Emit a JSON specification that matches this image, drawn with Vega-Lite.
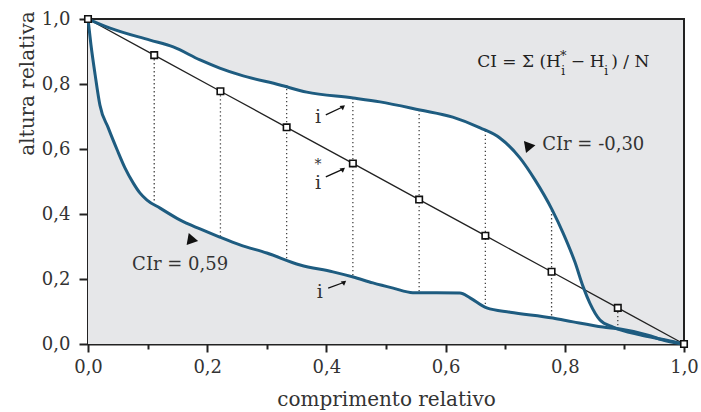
{
  "$schema": "https://vega.github.io/schema/vega-lite/v6.json",
  "width": 596,
  "height": 325,
  "autosize": {"type": "none"},
  "padding": {"left": 88, "top": 19, "right": 17, "bottom": 68},
  "background": "white",
  "config": {
    "font": "DejaVu Serif",
    "view": {"fill": "#e6e7e9", "stroke": "#222", "strokeWidth": 2},
    "axis": {
      "grid": false,
      "domainColor": "#222",
      "domainWidth": 2,
      "tickColor": "#222",
      "tickWidth": 2,
      "labelFont": "DejaVu Serif",
      "labelFontSize": 18,
      "labelColor": "#333",
      "titleFont": "DejaVu Serif",
      "titleFontSize": 20,
      "titleFontWeight": "normal",
      "titleColor": "#333",
      "labelOverlap": false,
      "labelFlush": false
    }
  },
  "datasets": {
    "upper": [
      {"x": 0, "y": 1.0}, {"x": 0.037, "y": 0.972}, {"x": 0.104, "y": 0.935}, {"x": 0.143, "y": 0.914},
      {"x": 0.188, "y": 0.874}, {"x": 0.221, "y": 0.849}, {"x": 0.255, "y": 0.828}, {"x": 0.322, "y": 0.797},
      {"x": 0.367, "y": 0.775}, {"x": 0.445, "y": 0.757}, {"x": 0.49, "y": 0.745}, {"x": 0.557, "y": 0.72},
      {"x": 0.612, "y": 0.698}, {"x": 0.658, "y": 0.665}, {"x": 0.691, "y": 0.634}, {"x": 0.725, "y": 0.572},
      {"x": 0.75, "y": 0.505}, {"x": 0.779, "y": 0.412}, {"x": 0.797, "y": 0.342}, {"x": 0.817, "y": 0.252},
      {"x": 0.831, "y": 0.175}, {"x": 0.842, "y": 0.126}, {"x": 0.859, "y": 0.074}, {"x": 0.881, "y": 0.052},
      {"x": 0.926, "y": 0.028}, {"x": 0.971, "y": 0.012}, {"x": 1.0, "y": 0.0}
    ],
    "lower": [
      {"x": 0, "y": 1.0}, {"x": 0.005, "y": 0.92}, {"x": 0.012, "y": 0.828}, {"x": 0.02, "y": 0.735},
      {"x": 0.034, "y": 0.665}, {"x": 0.049, "y": 0.597}, {"x": 0.062, "y": 0.542}, {"x": 0.076, "y": 0.495},
      {"x": 0.087, "y": 0.465}, {"x": 0.099, "y": 0.443}, {"x": 0.121, "y": 0.418}, {"x": 0.154, "y": 0.382},
      {"x": 0.188, "y": 0.354}, {"x": 0.221, "y": 0.329}, {"x": 0.255, "y": 0.305}, {"x": 0.3, "y": 0.28},
      {"x": 0.356, "y": 0.243}, {"x": 0.411, "y": 0.222}, {"x": 0.445, "y": 0.206}, {"x": 0.478, "y": 0.188},
      {"x": 0.512, "y": 0.172}, {"x": 0.545, "y": 0.158}, {"x": 0.624, "y": 0.157}, {"x": 0.641, "y": 0.142},
      {"x": 0.669, "y": 0.111}, {"x": 0.708, "y": 0.098}, {"x": 0.78, "y": 0.08}, {"x": 0.814, "y": 0.068},
      {"x": 0.864, "y": 0.052}, {"x": 0.893, "y": 0.046}, {"x": 0.938, "y": 0.028}, {"x": 0.971, "y": 0.009},
      {"x": 1.0, "y": 0.0}
    ],
    "diag": [
      {"x": 0, "y": 1}, {"x": 0.1111, "y": 0.8889}, {"x": 0.2222, "y": 0.7778}, {"x": 0.3333, "y": 0.6667},
      {"x": 0.4444, "y": 0.5556}, {"x": 0.5556, "y": 0.4444}, {"x": 0.6667, "y": 0.3333}, {"x": 0.7778, "y": 0.2222},
      {"x": 0.8889, "y": 0.1111}, {"x": 1, "y": 0}
    ],
    "dots": [
      {"x": 0.1111, "y": 0.8889, "y2": 0.44}, {"x": 0.2222, "y": 0.7778, "y2": 0.328},
      {"x": 0.3333, "y": 0.797, "y2": 0.262}, {"x": 0.4444, "y": 0.757, "y2": 0.207},
      {"x": 0.5556, "y": 0.72, "y2": 0.158}, {"x": 0.6667, "y": 0.656, "y2": 0.113},
      {"x": 0.7778, "y": 0.412, "y2": 0.081}, {"x": 0.8889, "y": 0.1111, "y2": 0.047}
    ],
    "arrows": [
      {"x": 0.399, "y": 0.705, "x2": 0.428, "y2": 0.73},
      {"x": 0.399, "y": 0.514, "x2": 0.428, "y2": 0.538},
      {"x": 0.403, "y": 0.172, "x2": 0.43, "y2": 0.19}
    ],
    "ilabels": [
      {"x": 0.386, "y": 0.68, "t": "i"},
      {"x": 0.386, "y": 0.477, "t": "i"},
      {"x": 0.389, "y": 0.142, "t": "i"}
    ],
    "stars": [{"x": 0.386, "y": 0.54, "t": "*"}],
    "cirlabels": [
      {"x": 0.762, "y": 0.597, "t": "CIr = -0,30"},
      {"x": 0.074, "y": 0.228, "t": "CIr = 0,59"}
    ],
    "formula": [
      {"x": 0.653, "y": 0.852, "t": "CI = Σ (H"},
      {"x": 0.81, "y": 0.852, "t": "−"},
      {"x": 0.842, "y": 0.852, "t": "H"},
      {"x": 0.878, "y": 0.852, "t": ") / N"}
    ],
    "fsup": [{"x": 0.792, "y": 0.874, "t": "*"}],
    "fsub": [{"x": 0.794, "y": 0.828, "t": "i"}, {"x": 0.866, "y": 0.828, "t": "i"}],
    "tri1": [{"x": 0.738, "y": 0.603}],
    "tri2": [{"x": 0.176, "y": 0.32}]
  },
  "encoding": {
    "x": {"type": "quantitative"},
    "y": {"type": "quantitative"}
  },
  "layer": [
    {
      "data": {"name": "upper"},
      "mark": {"type": "area", "fill": "white", "opacity": 1, "interpolate": "monotone"},
      "encoding": {
        "x": {"field": "x", "type": "quantitative", "scale": {"domain": [0, 1], "nice": false},
          "axis": {
            "values": [0, 0.1, 0.2, 0.3, 0.4, 0.5, 0.6, 0.7, 0.8, 0.9, 1],
            "labelExpr": "round(datum.value*10)%2==0 ? replace(format(datum.value,'.1f'),'.',',') : ''",
            "tickSize": {"condition": {"test": "round(datum.value*10)%2==0", "value": 8}, "value": 5},
            "labelPadding": 6,
            "title": "comprimento relativo",
            "titleY": 61,
            "titleBaseline": "alphabetic"
          }},
        "y": {"field": "y", "type": "quantitative", "scale": {"domain": [0, 1], "nice": false},
          "axis": {
            "values": [0, 0.1, 0.2, 0.3, 0.4, 0.5, 0.6, 0.7, 0.8, 0.9, 1],
            "labelExpr": "round(datum.value*10)%2==0 ? replace(format(datum.value,'.1f'),'.',',') : ''",
            "tickSize": {"condition": {"test": "round(datum.value*10)%2==0", "value": 9}, "value": 5},
            "labelPadding": 9,
            "title": "altura relativa",
            "titleAngle": -90,
            "titleX": -55,
            "titleY": 64,
            "titleAlign": "center",
            "titleBaseline": "alphabetic"
          }}
      }
    },
    {
      "data": {"name": "lower"},
      "mark": {"type": "area", "fill": "#e6e7e9", "opacity": 1, "interpolate": "monotone"},
      "encoding": {"x": {"field": "x"}, "y": {"field": "y"}}
    },
    {
      "data": {"name": "dots"},
      "mark": {"type": "rule", "color": "#444", "strokeWidth": 1.3, "strokeDash": [1.3, 2.7]},
      "encoding": {"x": {"field": "x"}, "y": {"field": "y"}, "y2": {"field": "y2"}}
    },
    {
      "data": {"name": "diag"},
      "mark": {"type": "line", "color": "#222", "strokeWidth": 1.3},
      "encoding": {"x": {"field": "x"}, "y": {"field": "y"}}
    },
    {
      "data": {"name": "upper"},
      "mark": {"type": "line", "color": "#1e5c80", "strokeWidth": 3, "interpolate": "monotone"},
      "encoding": {"x": {"field": "x"}, "y": {"field": "y"}}
    },
    {
      "data": {"name": "lower"},
      "mark": {"type": "line", "color": "#1e5c80", "strokeWidth": 3, "interpolate": "monotone"},
      "encoding": {"x": {"field": "x"}, "y": {"field": "y"}}
    },
    {
      "data": {"name": "diag"},
      "mark": {"type": "point", "shape": "square", "filled": false, "fill": "white", "fillOpacity": 1, "stroke": "#111", "strokeWidth": 1.6, "size": 42, "opacity": 1},
      "encoding": {"x": {"field": "x"}, "y": {"field": "y"}}
    },
    {
      "data": {"name": "arrows"},
      "mark": {"type": "rule", "color": "#111", "strokeWidth": 1.3},
      "encoding": {"x": {"field": "x"}, "y": {"field": "y"}, "x2": {"field": "x2"}, "y2": {"field": "y2"}}
    },
    {
      "data": {"name": "arrows"},
      "mark": {"type": "point", "shape": "triangle-right", "filled": true, "color": "#111", "size": 30, "angle": -38, "opacity": 1},
      "encoding": {"x": {"field": "x2"}, "y": {"field": "y2"}}
    },
    {
      "data": {"name": "ilabels"},
      "mark": {"type": "text", "fontSize": 19, "align": "center", "baseline": "alphabetic", "color": "#333"},
      "encoding": {"x": {"field": "x"}, "y": {"field": "y"}, "text": {"field": "t"}}
    },
    {
      "data": {"name": "stars"},
      "mark": {"type": "text", "fontSize": 14, "align": "center", "baseline": "alphabetic", "color": "#333"},
      "encoding": {"x": {"field": "x"}, "y": {"field": "y"}, "text": {"field": "t"}}
    },
    {
      "data": {"name": "cirlabels"},
      "mark": {"type": "text", "fontSize": 18, "align": "left", "baseline": "alphabetic", "color": "#333"},
      "encoding": {"x": {"field": "x"}, "y": {"field": "y"}, "text": {"field": "t"}}
    },
    {
      "data": {"name": "formula"},
      "mark": {"type": "text", "fontSize": 17, "align": "left", "baseline": "alphabetic", "color": "#222"},
      "encoding": {"x": {"field": "x"}, "y": {"field": "y"}, "text": {"field": "t"}}
    },
    {
      "data": {"name": "fsup"},
      "mark": {"type": "text", "fontSize": 13, "align": "left", "baseline": "alphabetic", "color": "#222"},
      "encoding": {"x": {"field": "x"}, "y": {"field": "y"}, "text": {"field": "t"}}
    },
    {
      "data": {"name": "fsub"},
      "mark": {"type": "text", "fontSize": 12, "align": "left", "baseline": "alphabetic", "color": "#222"},
      "encoding": {"x": {"field": "x"}, "y": {"field": "y"}, "text": {"field": "t"}}
    },
    {
      "data": {"name": "tri1"},
      "mark": {"type": "point", "shape": "triangle-down", "filled": true, "color": "#111", "size": 150, "angle": 20, "opacity": 1},
      "encoding": {"x": {"field": "x"}, "y": {"field": "y"}}
    },
    {
      "data": {"name": "tri2"},
      "mark": {"type": "point", "shape": "triangle-right", "filled": true, "color": "#111", "size": 150, "angle": 10, "opacity": 1},
      "encoding": {"x": {"field": "x"}, "y": {"field": "y"}}
    }
  ]
}
